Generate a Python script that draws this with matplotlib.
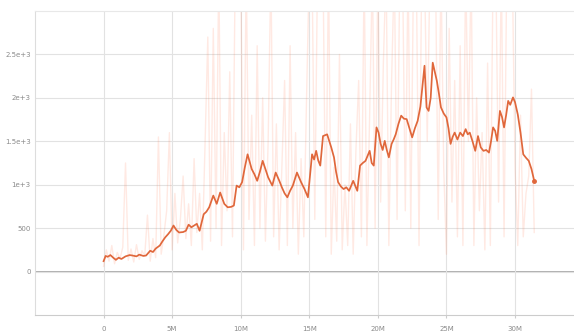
import numpy as np
import matplotlib
matplotlib.use('Agg')
import matplotlib.pyplot as plt

# raw values, logged every 0.2M steps from 0 to 31.4M
raw_vals = [
    60, 250, 120, 300, 90, 220, 150, 280, 1250, 130,
    260, 110, 310, 140, 240, 180, 650, 120, 380, 160,
    1550, 200, 420, 700, 1600, 250, 900, 330, 600, 1100,
    380, 780, 300, 1300, 450, 900, 250, 1500, 2700, 350,
    2800, 500, 3500, 300, 1600, 700, 2300, 400, 3500, 3500,
    3500, 250, 3500, 600, 1800, 300, 2600, 500, 2000, 350,
    1500, 3500, 400, 1700, 250, 1200, 2200, 300, 2600, 500,
    1600, 200, 1300, 400, 2000, 3500, 3500, 600, 3500, 3500,
    3500, 400, 3500, 200, 1200, 350, 2500, 250, 1000, 300,
    1700, 200, 1400, 2200, 400, 3500, 300, 1800, 3500, 500,
    3500, 800, 2400, 3500, 300, 2200, 3500, 600, 3500, 3500,
    700, 3500, 500, 3500, 3500, 300, 3500, 3500, 1500, 3500,
    3500, 3500, 600, 3500, 1200, 200, 2800, 800, 2200, 400,
    2600, 300, 3500, 1500, 3500, 300, 2000, 700, 1600, 250,
    2400, 300, 3500, 3500, 800, 3500, 400, 3500, 3500, 3500,
    1200, 300, 1800, 400, 900, 1100, 2100, 450,
]
raw_steps = np.linspace(0, 31.4e6, len(raw_vals))

# smoothed curve (step in millions, value)
smooth_steps = [
    0.0, 0.15, 0.3, 0.5, 0.7, 0.9, 1.1, 1.3, 1.6, 1.9, 2.1, 2.4, 2.6, 2.9, 3.1, 3.4, 3.6, 3.8,
    4.1, 4.3, 4.5, 4.7, 4.9, 5.1, 5.3, 5.5, 5.8, 6.0, 6.2, 6.4, 6.6, 6.8, 7.0, 7.3, 7.5, 7.7,
    8.0, 8.25, 8.5, 8.8, 9.05, 9.3, 9.5, 9.7, 9.9, 10.1, 10.3, 10.5, 10.8, 11.0, 11.2, 11.4,
    11.6, 11.8, 12.0, 12.3, 12.55, 12.8, 13.0, 13.2, 13.4, 13.6, 13.8, 14.1, 14.4, 14.65, 14.9,
    15.05, 15.2, 15.35, 15.5, 15.65, 15.8, 16.0, 16.3, 16.5, 16.6, 16.8, 16.95, 17.1, 17.3,
    17.5, 17.7, 17.9, 18.2, 18.5, 18.7, 18.9, 19.1, 19.4, 19.55, 19.7, 19.9, 20.05, 20.2,
    20.35, 20.5, 20.65, 20.8, 21.0, 21.15, 21.3, 21.5, 21.7, 21.9, 22.1, 22.3, 22.5, 22.7,
    22.9, 23.1, 23.4, 23.55, 23.7, 23.85, 24.0, 24.15, 24.3, 24.45, 24.6, 24.8, 25.0, 25.15,
    25.3, 25.45, 25.6, 25.8, 26.0, 26.2, 26.4, 26.55, 26.7, 26.9, 27.1, 27.3, 27.5, 27.7,
    27.9, 28.1, 28.25, 28.4, 28.55, 28.7, 28.9, 29.05, 29.2, 29.35, 29.5, 29.65, 29.85, 30.0,
    30.2, 30.4, 30.6, 30.8, 31.0, 31.2, 31.4,
]
smooth_vals = [
    120, 180, 170, 190, 160, 135, 160, 145, 175, 190, 185, 175, 195, 180, 185, 240, 225, 265,
    300, 350, 395, 430, 470, 530, 480, 450, 455, 470, 540, 510, 530, 550, 470, 660, 690, 740,
    875, 780, 910, 780, 740, 745, 760, 990, 970, 1030, 1200, 1350, 1180, 1120, 1045, 1150,
    1275, 1180, 1085, 990, 1140, 1050, 970, 900, 855, 930, 990, 1140, 1030, 950, 855,
    1100, 1350, 1290, 1390, 1280, 1220, 1560, 1580, 1480, 1430, 1315, 1150, 1030, 980,
    950, 970, 930, 1045, 930, 1220, 1250, 1275, 1390, 1250, 1220, 1660, 1600, 1470,
    1400, 1505, 1400, 1315, 1470, 1520, 1580, 1700, 1795, 1760, 1755, 1650, 1545, 1650,
    1735, 1900, 2370, 1890, 1850, 2000, 2405, 2300, 2195, 2050, 1890, 1820, 1775, 1650,
    1470, 1550, 1600, 1520, 1600, 1560, 1640, 1580, 1600, 1500, 1390, 1560, 1430, 1390,
    1400, 1370, 1500, 1660, 1620, 1505, 1850, 1780, 1660, 1800, 1965, 1920, 2005, 1950,
    1810, 1600, 1350, 1310, 1275, 1180, 1045,
]

x_ticks = [0, 5e6, 10e6, 15e6, 20e6, 25e6, 30e6]
x_labels = ['0', '5M', '10M', '15M', '20M', '25M', '30M']
y_ticks = [0, 500, 1000, 1500, 2000, 2500]
y_labels = ['0', '500', '1e+3', '1.5e+3', '2e+3', '2.5e+3']

fig = plt.figure(figsize=(5.74, 3.32), dpi=100)
ax = fig.add_axes([35 / 574, 1 - 315 / 332, 1 - 35 / 574, (315 - 11) / 332])

# raw data: faint thin strokes
ax.plot(raw_steps, raw_vals, color='#ff7043', alpha=0.15, lw=1.0, zorder=2)
# smoothed curve
sx = np.array(smooth_steps) * 1e6
ax.plot(sx, smooth_vals, color='#e0673b', lw=1.25, zorder=3)
ax.plot(sx[-1], smooth_vals[-1], 'o', color='#e0673b', ms=2.5, zorder=4)

ax.axhline(0, color='#9a9a9a', lw=1.1, zorder=1)

ax.set_xlim(-5e6, 34.3e6)
ax.set_ylim(-500, 3000)
ax.set_xticks(x_ticks)
ax.set_xticklabels(x_labels)
ax.set_yticks(y_ticks)
ax.set_yticklabels(y_labels)
ax.grid(True, color='#e2e2e2', lw=0.8, zorder=0)

ax.tick_params(axis='x', length=2, color='#cccccc', pad=6, labelsize=5, labelcolor='#8a8a8a')
ax.tick_params(axis='y', length=0, pad=3, labelsize=5, labelcolor='#8a8a8a')
ax.spines['right'].set_visible(False)
ax.spines['top'].set_color('#e8e8e8')
ax.spines['left'].set_color('#dddddd')
ax.spines['bottom'].set_color('#cccccc')
for s in ax.spines.values():
    s.set_linewidth(0.8)

fig.savefig('out.png', dpi=100)
